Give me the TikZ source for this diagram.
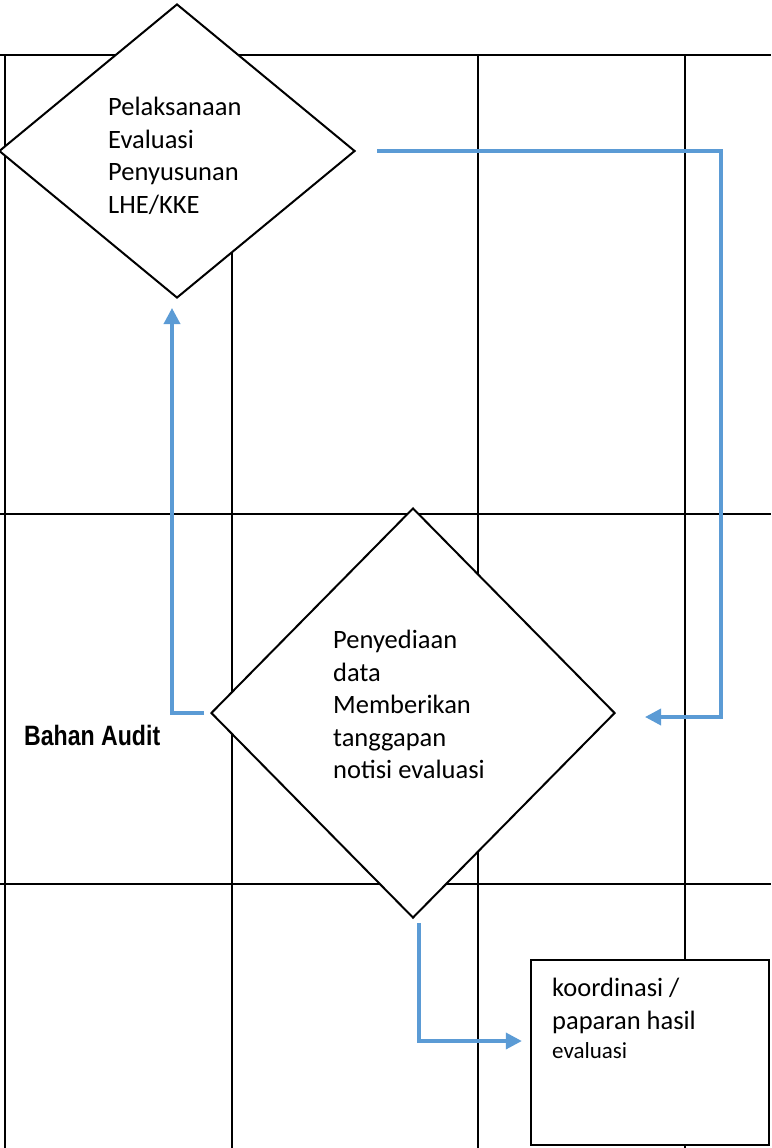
\documentclass[tikz,border=0pt]{standalone}
\usepackage{fontspec}
\setmainfont{Carlito}
\newfontfamily\auditfont[FakeStretch=0.825]{Liberation Sans Bold}
\usepackage{tikz}
\usetikzlibrary{calc,positioning,shapes.geometric,arrows.meta}
\definecolor{alurbiru}{HTML}{5B9BD5}

\begin{document}
\begin{tikzpicture}[x=1pt,y=-1pt,
		garis/.style={line width=2pt},
		wajik/.style={shape=diamond,draw,fill=white,line width=2pt,inner sep=0pt},
		teks/.style={inner sep=0pt,align=left,anchor=north west,font=\fontsize{26.5}{32.5}\selectfont},
		alur/.style={draw=alurbiru,line width=3.5pt,-{Triangle[length=16pt,width=16pt]}}]
		\useasboundingbox (0,0) rectangle (771,1148);
		\begin{scope}
			\draw[garis] (0,55) -- (771,55);
			\draw[garis] (0,514) -- (771,514);
			\draw[garis] (0,884) -- (771,884);
			\draw[garis] (5,55) -- (5,1148);
			\draw[garis] (232,55) -- (232,1148);
			\draw[garis] (478,55) -- (478,1148);
			\draw[garis] (685,55) -- (685,1148);
		\end{scope}
		\begin{scope}
			\node(eval) [wajik,minimum width=356pt,minimum height=294pt] at (177,151) {};
			\node(evaltxt) [teks] at (108,97) {Pelaksanaan\\Evaluasi\\Penyusunan\\LHE/KKE};
			\node(tanggap) [wajik,minimum width=404pt,minimum height=410pt] at (413,713) {};
			\node(tanggaptxt) [teks] at (333,630) {Penyediaan\\data\\Memberikan\\tanggapan\\notisi evaluasi};
			\node(hasil) [draw,fill=white,line width=1.3pt,minimum width=238pt,minimum height=185pt] at (650,1052.5) {};
			\node(hasiltxt) [teks] at (552,978) {koordinasi /\\paparan hasil\\[-3pt]{\fontsize{23}{30}\selectfont evaluasi}};
			\node(audit) [inner sep=0pt,anchor=base west,font=\auditfont\fontsize{28}{32}\selectfont] at (24,745) {Bahan Audit};
			\coordinate (belok) at (721,151);
			\path[alur]
				([xshift=-6pt]tanggap.west) -| ([xshift=-5pt,yshift=-9pt]eval.south);
			\path[alur]
				([xshift=21pt]eval.east) -- (belok) |- ([xshift=29pt,yshift=-4pt]tanggap.east);
			\path[alur]
				([xshift=6pt,yshift=-4pt]tanggap.south) |- ([xshift=-8.5pt,yshift=11.5pt]hasil.west);
		\end{scope}
	\end{tikzpicture}
\end{document}
